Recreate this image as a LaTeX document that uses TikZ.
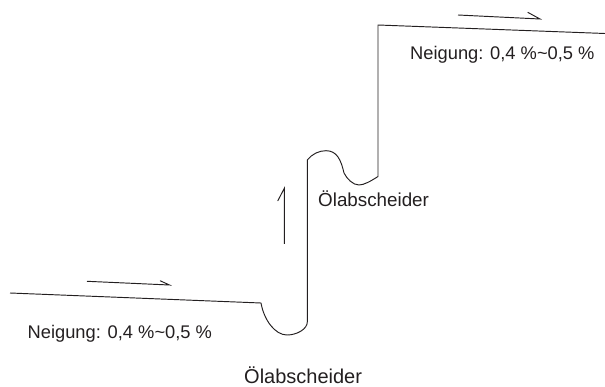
\documentclass[tikz,border=0pt]{standalone}
\usepackage{fontspec}
\setmainfont{Liberation Sans}
\definecolor{ink}{HTML}{231F20}
\tikzset{
  pipe/.style={draw=ink,line width=0.95pt,line join=miter},
  flow/.style={draw=ink,line width=0.95pt},
  lab/.style={text=ink,inner sep=0pt,anchor=base west,font=\fontsize{18.3pt}{22pt}\selectfont},
  labmid/.style={text=ink,inner sep=0pt,anchor=base west,font=\fontsize{18.8pt}{22pt}\selectfont},
  labbig/.style={text=ink,inner sep=0pt,anchor=base west,font=\fontsize{20pt}{24pt}\selectfont}
}
\begin{document}
\begin{tikzpicture}[x=1pt,y=-1pt]
\useasboundingbox (0,0) rectangle (605,387);
\coordinate (p0) at (10,293);
\coordinate (p1) at (261,303);
\coordinate (p2) at (287,335);
\coordinate (p3) at (307.3,322);
\coordinate (p4) at (307.3,160);
\coordinate (p5) at (326,150.7);
\coordinate (p6) at (344,173);
\coordinate (p7) at (359,185);
\coordinate (p8) at (378,176.5);
\coordinate (p9) at (378,25);
\coordinate (p10) at (605,33.5);
\draw[pipe] (p0) -- (p1)
  .. controls (264,320) and (275,335) .. (p2)
  .. controls (297,335) and (307.3,329) .. (p3)
  -- (p4)
  .. controls (312,154) and (319,150.7) .. (p5)
  .. controls (337,150.7) and (341,160) .. (p6)
  .. controls (347,179) and (353,185) .. (p7)
  .. controls (364,185) and (371,181) .. (p8)
  -- (p9) -- (p10);
\coordinate (a0) at (87,281.3);
\coordinate (a1) at (169.5,285);
\coordinate (a2) at (160,280.7);
\draw[flow] (a0) -- (a1) -- (a2);
\coordinate (b0) at (458,15);
\coordinate (b1) at (540,19);
\coordinate (b2) at (527.7,12.3);
\draw[flow] (b0) -- (b1) -- (b2);
\coordinate (c0) at (284.3,244);
\coordinate (c1) at (284.3,188.3);
\coordinate (c2) at (277.7,201);
\draw[flow] (c0) -- (c1) -- (c2);
\node[lab] (t1) at (410,60) {Neigung: 0,4 \%\char`~0,5 \%};
\node[lab] (t2) at (27.5,338) {Neigung: 0,4 \%\char`~0,5 \%};
\node[labmid] (t3) at (318,207) {Ölabscheider};
\node[labbig] (t4) at (244,383) {Ölabscheider};
\end{tikzpicture}
\end{document}
